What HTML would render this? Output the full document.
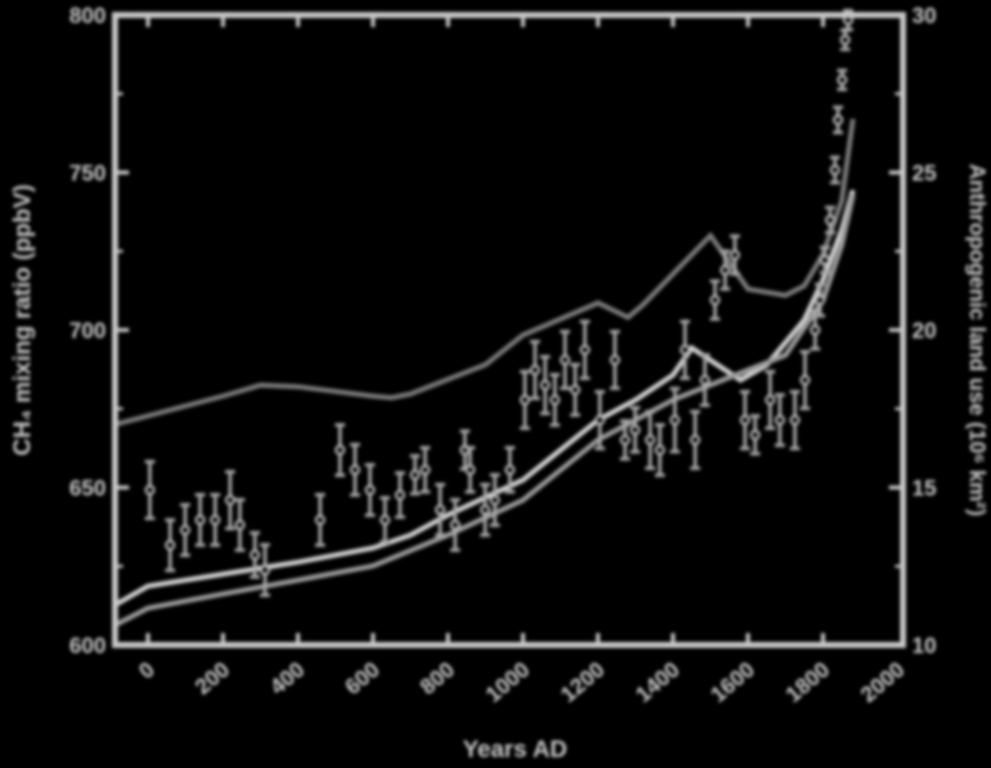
<!DOCTYPE html>
<html><head><meta charset="utf-8"><style>
html,body{margin:0;padding:0;background:#000;width:991px;height:768px;overflow:hidden}
svg{display:block;filter:blur(1.8px)}
text{font-family:"Liberation Sans",sans-serif;font-weight:bold;fill:#c8c8c8}
</style></head><body>
<svg id="chart" width="991" height="768" viewBox="0 0 991 768" xmlns="http://www.w3.org/2000/svg">
<g id="plot"></g>
</svg>
<script>
const xTicks=[0,200,400,600,800,1000,1200,1400,1600,1800,2000];
const leftTicks=[600,650,700,750,800];
const rightTicks=[10,15,20,25,30];
const landYears=[-88,200,300,400,600,650,700,900,1000,1200,1280,1320,1500,1600,1700,1750,1800,1850,1880];
const landVals=[17.0,17.9,18.25,18.2,17.9,17.85,17.97,18.9,19.84,20.86,20.4,20.8,23.0,21.3,21.1,21.4,22.4,24.1,26.7];
const modelAYears=[-88,0,200,400,600,700,800,1000,1100,1200,1300,1400,1450,1580,1650,1750,1800,1850,1880];
const modelAVals=[612.7,618.7,622.5,626.3,630.8,634.9,641.3,652.4,661.9,671.4,677.8,685.7,694.3,684.1,688.9,703.2,715.9,731.7,744.4];
const modelBYears=[-88,0,200,400,600,800,1000,1200,1400,1600,1700,1800,1850,1880];
const modelBVals=[606.3,611.7,616.2,620.6,625.1,634.9,646,665.1,677.8,687.3,692,709.5,727,742.9];
const obsYears=[5,59,99,139,179,219,245,285,312,459,512,552,592,632,672,712,739,779,819,845,859,899,925,965,1005,1032,1059,1085,1112,1139,1165,1205,1245,1272,1299,1339,1365,1405,1432,1459,1485,1512,1539,1565,1592,1619,1659,1685,1725,1752,1779,1792,1805,1819,1832,1840,1851,1859,1867];
const obsVals=[649.2,631.7,636.5,639.7,639.7,646,638.1,628.6,623.8,639.7,661.9,655.6,649.2,639.7,647.6,654,655.6,642.9,638.1,661.9,655.6,642.9,646,655.6,677.8,687.3,682.5,677.8,690.5,681,693.7,671.4,690.5,665.1,668.3,665.1,661.9,671.4,693.7,665.1,684.1,709.5,719,723.8,671.4,666.7,677.8,671.4,671.4,684.1,700,709.5,722.2,734.9,750.8,766.7,779.4,792.1,798.4];
const obsErr=[9,8,8,8,8,9,8,7,8,8,8,8,8,7,7,6,7,8,8,6,7,8,8,7,9,9,9,8,9,8,9,9,9,6,7,9,8,10,9,9,8,6,6,6,9,6,9,8,9,9,6,5,4,4,4,4,3,3,3];

const L=115,R=903,T=15,B=645;
const x=y=>148+y*0.375;
const yL=v=>B-(v-600)*(B-T)/200;
const yR=v=>B-(v-10)*(B-T)/20;
const NS='http://www.w3.org/2000/svg';
const g=document.getElementById('plot');
function mk(tag,attrs,txt){const e=document.createElementNS(NS,tag);for(const k in attrs)e.setAttribute(k,attrs[k]);if(txt!==undefined)e.textContent=txt;g.appendChild(e);return e;}

let e=mk('polyline',{points:landYears.map((yr,i)=>x(yr)+','+yR(landVals[i])).join(' '),fill:'none',stroke:'#7a7a7a','stroke-width':5});


e=mk('polyline',{points:modelAYears.map((yr,i)=>x(yr)+','+yL(modelAVals[i])).join(' '),fill:'none',stroke:'#d0d0d0','stroke-width':5});


e=mk('polyline',{points:modelBYears.map((yr,i)=>x(yr)+','+yL(modelBVals[i])).join(' '),fill:'none',stroke:'#9a9a9a','stroke-width':5});


obsYears.forEach((yr,i)=>{
  const cx=x(yr),v=obsVals[i],er=obsErr[i];
  const y1=yL(v+er),y2=yL(v-er);
  let b=mk('path',{d:`M${cx},${y1}V${y2}M${cx-5},${y1}H${cx+5}M${cx-5},${y2}H${cx+5}`,stroke:'#a8a8a8','stroke-width':3.5,fill:'none'});
  
  
  let c=mk('circle',{cx:cx,cy:yL(v),r:4,fill:'#000',stroke:'#c0c0c0','stroke-width':2.5});
  
  
});
e=mk('rect',{x:L,y:T,width:R-L,height:B-T,fill:'none',stroke:'#c8c8c8','stroke-width':6});


xTicks.forEach((t,i)=>{
  const px=x(t);
  if(t<2000){
    let tk=mk('path',{d:`M${px},${B}v-12M${px},${T}v12`,stroke:'#c8c8c8','stroke-width':4});
    
    
  }
  let lb=mk('text',{x:px+8,y:672,'font-size':22,'text-anchor':'end',transform:`rotate(-40 ${px+8} 672)`},String(t));
  
  
});
leftTicks.forEach(t=>{
  let tk=mk('path',{d:`M${L},${yL(t)}h14`,stroke:'#c8c8c8','stroke-width':4});
  
  
  let lb=mk('text',{x:106,y:yL(t)+8,'font-size':22,'text-anchor':'end'},String(t));
  
  
});
for(let v=625;v<800;v+=50){let tk=mk('path',{d:`M${L},${yL(v)}h8`,stroke:'#c8c8c8','stroke-width':3});}
rightTicks.forEach(t=>{
  let tk=mk('path',{d:`M${R},${yR(t)}h-14`,stroke:'#c8c8c8','stroke-width':4});
  
  
  let lb=mk('text',{x:912,y:yR(t)+8,'font-size':22},String(t));
  
  
});
for(let v=12.5;v<30;v+=5){let tk=mk('path',{d:`M${R},${yR(v)}h-8`,stroke:'#c8c8c8','stroke-width':3});}
e=mk('text',{x:30,y:320,'font-size':24,'text-anchor':'middle',transform:'rotate(-90 30 320)'},'CH₄ mixing ratio (ppbV)');


e=mk('text',{x:970,y:340,'font-size':22,'text-anchor':'middle',transform:'rotate(90 970 340)'},'Anthropogenic land use (10⁶ km²)');


e=mk('text',{x:515,y:757,'font-size':24,'text-anchor':'middle'},'Years AD');


</script>
</body></html>
